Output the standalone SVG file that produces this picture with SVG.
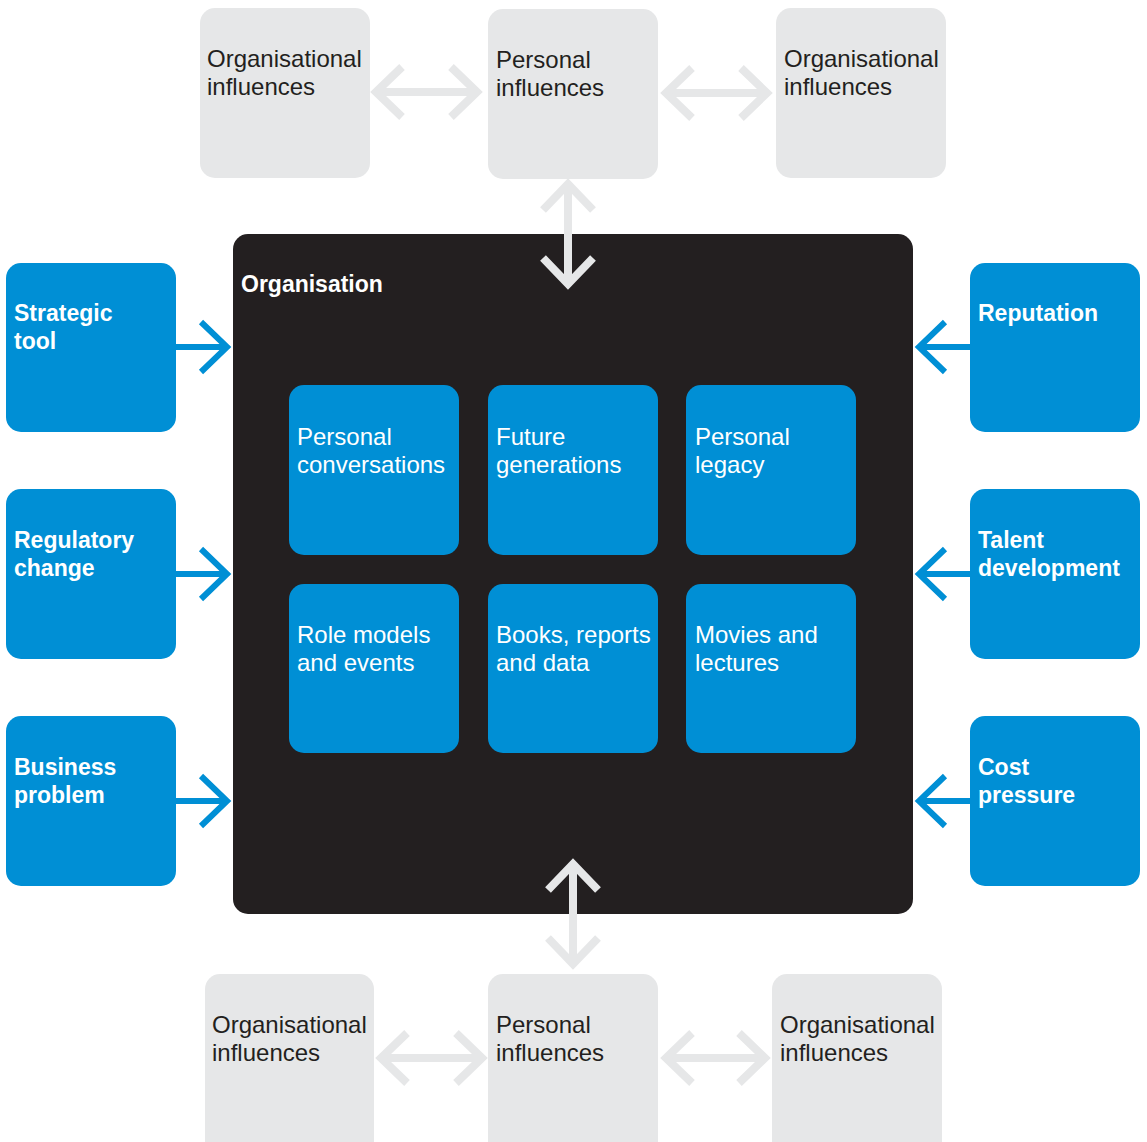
<svg xmlns="http://www.w3.org/2000/svg" width="1147" height="1142" viewBox="0 0 1147 1142">
<defs>
<style>
.grey{fill:#e6e7e8}
.blue{fill:#008fd5}
.dark{fill:#231f20}
.t{font-family:"Liberation Sans",Arial,sans-serif;font-size:24px}
.tg{fill:#231f20}
.tw{fill:#ffffff}
.b{font-family:"Liberation Sans",Arial,sans-serif;font-size:23px;font-weight:bold;fill:#ffffff}
.ga{fill:none;stroke:#e6e7e8;stroke-width:8;stroke-linejoin:miter;stroke-miterlimit:10}
.ba{fill:none;stroke:#008fd5;stroke-width:6;stroke-linejoin:miter;stroke-miterlimit:10}
</style>
</defs>
<rect width="1147" height="1142" fill="#ffffff"/>
<g id="organisation">
<rect class="dark" x="233" y="234" width="680" height="680" rx="15"/>
<text class="b" x="241" y="292">Organisation</text>
</g>
<g id="top-left"><rect class="grey" x="200" y="8" width="170" height="170" rx="15"/><text class="t tg" x="207" y="67">Organisational</text><text class="t tg" x="207" y="95">influences</text></g>
<g id="top-mid"><rect class="grey" x="488" y="9" width="170" height="170" rx="15"/><text class="t tg" x="496" y="68">Personal</text><text class="t tg" x="496" y="96">influences</text></g>
<g id="top-right"><rect class="grey" x="776" y="8" width="170" height="170" rx="15"/><text class="t tg" x="784" y="67">Organisational</text><text class="t tg" x="784" y="95">influences</text></g>
<g id="bot-left"><rect class="grey" x="205" y="974" width="169" height="185" rx="15"/><text class="t tg" x="212" y="1033">Organisational</text><text class="t tg" x="212" y="1061">influences</text></g>
<g id="bot-mid"><rect class="grey" x="488" y="974" width="170" height="185" rx="15"/><text class="t tg" x="496" y="1033">Personal</text><text class="t tg" x="496" y="1061">influences</text></g>
<g id="bot-right"><rect class="grey" x="772" y="974" width="170" height="185" rx="15"/><text class="t tg" x="780" y="1033">Organisational</text><text class="t tg" x="780" y="1061">influences</text></g>
<g id="strategic"><rect class="blue" x="6" y="263" width="170" height="169" rx="15"/><text class="b" x="14" y="321">Strategic</text><text class="b" x="14" y="349">tool</text></g>
<g id="regulatory"><rect class="blue" x="6" y="489" width="170" height="170" rx="15"/><text class="b" x="14" y="548">Regulatory</text><text class="b" x="14" y="576">change</text></g>
<g id="business"><rect class="blue" x="6" y="716" width="170" height="170" rx="15"/><text class="b" x="14" y="775">Business</text><text class="b" x="14" y="803">problem</text></g>
<g id="reputation"><rect class="blue" x="970" y="263" width="170" height="169" rx="15"/><text class="b" x="978" y="321">Reputation</text></g>
<g id="talent"><rect class="blue" x="970" y="489" width="170" height="170" rx="15"/><text class="b" x="978" y="548">Talent</text><text class="b" x="978" y="576">development</text></g>
<g id="cost"><rect class="blue" x="970" y="716" width="170" height="170" rx="15"/><text class="b" x="978" y="775">Cost</text><text class="b" x="978" y="803">pressure</text></g>
<g id="conversations"><rect class="blue" x="289" y="385" width="170" height="170" rx="15"/><text class="t tw" x="297" y="445">Personal</text><text class="t tw" x="297" y="473">conversations</text></g>
<g id="future"><rect class="blue" x="488" y="385" width="170" height="170" rx="15"/><text class="t tw" x="496" y="445">Future</text><text class="t tw" x="496" y="473">generations</text></g>
<g id="legacy"><rect class="blue" x="686" y="385" width="170" height="170" rx="15"/><text class="t tw" x="695" y="445">Personal</text><text class="t tw" x="695" y="473">legacy</text></g>
<g id="role"><rect class="blue" x="289" y="584" width="170" height="169" rx="15"/><text class="t tw" x="297" y="643">Role models</text><text class="t tw" x="297" y="671">and events</text></g>
<g id="books"><rect class="blue" x="488" y="584" width="170" height="169" rx="15"/><text class="t tw" x="496" y="643">Books, reports</text><text class="t tw" x="496" y="671">and data</text></g>
<g id="movies"><rect class="blue" x="686" y="584" width="170" height="169" rx="15"/><text class="t tw" x="695" y="643">Movies and</text><text class="t tw" x="695" y="671">lectures</text></g>
<g id="connectors">
<line class="ba" x1="176" y1="347" x2="226" y2="347"/><polyline class="ba" points="201,322 227,347 201,372"/>
<line class="ba" x1="176" y1="574" x2="226" y2="574"/><polyline class="ba" points="201,549 227,574 201,599"/>
<line class="ba" x1="176" y1="801" x2="226" y2="801"/><polyline class="ba" points="201,776 227,801 201,826"/>
<line class="ba" x1="970" y1="347" x2="920" y2="347"/><polyline class="ba" points="945,322 919,347 945,372"/>
<line class="ba" x1="970" y1="574" x2="920" y2="574"/><polyline class="ba" points="945,549 919,574 945,599"/>
<line class="ba" x1="970" y1="801" x2="920" y2="801"/><polyline class="ba" points="945,776 919,801 945,826"/>
<line class="ga" x1="377" y1="92" x2="477" y2="92"/><polyline class="ga" points="402,67 376,92 402,117"/><polyline class="ga" points="451,67 477,92 451,117"/>
<line class="ga" x1="667" y1="93" x2="766" y2="93"/><polyline class="ga" points="692,68 666,93 692,118"/><polyline class="ga" points="741,68 767,93 741,118"/>
<line class="ga" x1="382" y1="1058" x2="481" y2="1058"/><polyline class="ga" points="407,1033 381,1058 407,1083"/><polyline class="ga" points="456,1033 482,1058 456,1083"/>
<line class="ga" x1="667" y1="1058" x2="764" y2="1058"/><polyline class="ga" points="692,1033 666,1058 692,1083"/><polyline class="ga" points="739,1033 765,1058 739,1083"/>
<line class="ga" x1="568" y1="185" x2="568" y2="283"/><polyline class="ga" points="543,210 568,184 593,210"/><polyline class="ga" points="543,258 568,284 593,258"/>
<line class="ga" x1="573" y1="865" x2="573" y2="963"/><polyline class="ga" points="548,890 573,864 598,890"/><polyline class="ga" points="548,938 573,964 598,938"/>
</g>
</svg>
